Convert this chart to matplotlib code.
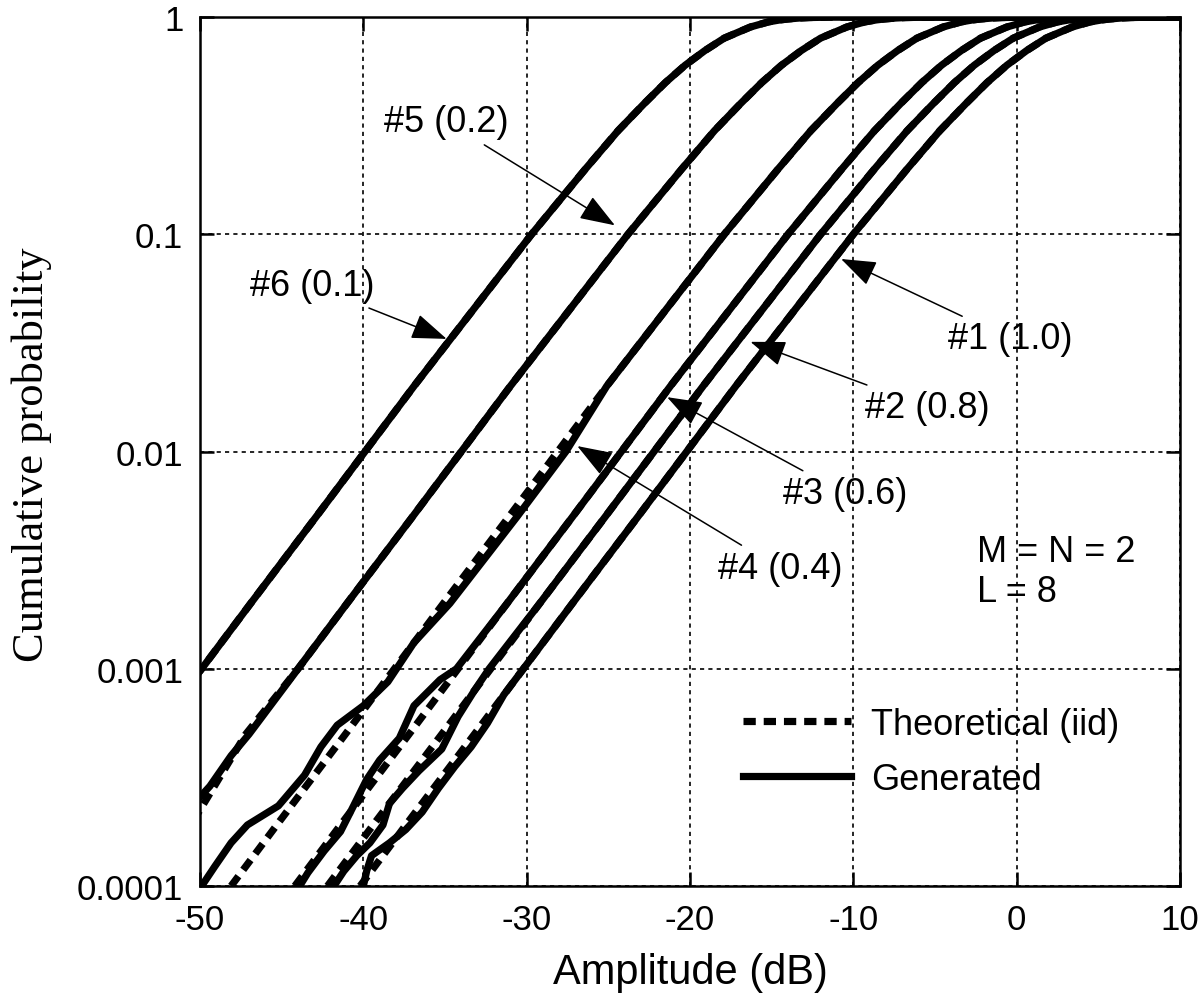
import matplotlib
matplotlib.use("Agg")
import matplotlib.pyplot as plt
from matplotlib.ticker import FixedLocator, NullLocator

plt.rcParams['font.family'] = ['Liberation Sans', 'DejaVu Sans']
plt.rcParams['axes.unicode_minus'] = False

levels = [1e-4, 2e-4, 5e-4, 1e-3, 2e-3, 5e-3, 0.01, 0.02, 0.05, 0.1, 0.2, 0.3,
          0.4, 0.5, 0.6, 0.7, 0.8, 0.9, 0.95, 0.97, 0.98, 0.99, 0.995, 0.999, 1.0]

# theoretical (iid) curves: amplitude in dB at each level
theo6 = [-59.9, -56.9, -52.9, -49.9, -46.9, -42.9, -39.9, -36.9, -32.8, -29.7, -26.4, -24.4,
         -22.8, -21.5, -20.3, -19.1, -17.9, -16.3, -15.2, -14.5, -14.0, -13.3, -12.7, -11.5, 10]
theo5 = [-53.4, -50.4, -47.2, -44.0, -41.0, -37.0, -34.0, -31.0, -26.9, -23.8, -20.5, -18.5,
         -16.9, -15.6, -14.4, -13.2, -12.0, -10.4, -9.3, -8.6, -8.1, -7.4, -6.8, -5.6, 10]
theo4 = [-48.1, -45.1, -41.1, -38.1, -35.1, -31.1, -28.1, -25.1, -21.0, -17.9, -14.6, -12.6,
         -11.0, -9.7, -8.5, -7.3, -6.1, -4.5, -3.4, -2.7, -2.2, -1.5, -0.9, 0.3, 10]
theo3 = [-44.2, -41.2, -37.2, -34.2, -31.2, -27.2, -24.2, -21.2, -17.1, -14.0, -10.7, -8.7,
         -7.1, -5.8, -4.6, -3.4, -2.2, -0.6, 0.5, 1.2, 1.7, 2.4, 3.0, 4.2, 10]
theo2 = [-42.2, -39.2, -35.2, -32.2, -29.2, -25.2, -22.2, -19.2, -15.1, -12.0, -8.7, -6.7,
         -5.1, -3.8, -2.6, -1.4, -0.2, 1.4, 2.5, 3.2, 3.7, 4.4, 5.0, 6.2, 10]
theo1 = [-40.2, -37.2, -33.2, -30.2, -27.2, -23.2, -20.2, -17.2, -13.1, -10.0, -6.7, -4.7,
         -3.1, -1.8, -0.6, 0.6, 1.8, 3.4, 4.5, 5.2, 5.7, 6.4, 7.0, 8.2, 10]

# generated curves, low tail where they leave the theoretical ones
gen1_x = [-40.0, -39.8, -39.5, -38.4, -37.4, -36.4, -35.4, -34.4, -33.4, -32.4, -31.4, -30.2]
gen1_p = [1.0e-4, 1.17e-4, 1.38e-4, 1.58e-4, 1.82e-4, 2.19e-4, 2.82e-4, 3.55e-4, 4.37e-4,
          5.62e-4, 7.59e-4, 1.0e-3]
gen2_x = [-41.8, -41.2, -40.4, -39.6, -38.8, -38.4, -37.6, -36.6, -35.2, -34.2, -33.2, -32.3]
gen2_p = [1.0e-4, 1.17e-4, 1.38e-4, 1.58e-4, 1.91e-4, 2.40e-4, 2.82e-4, 3.39e-4, 4.27e-4,
          6.03e-4, 7.94e-4, 1.0e-3]
gen3_x = [-43.9, -43.4, -42.4, -41.4, -40.6, -39.8, -39.0, -37.8, -36.9, -35.3, -34.3]
gen3_p = [1.0e-4, 1.15e-4, 1.45e-4, 1.78e-4, 2.34e-4, 3.09e-4, 3.80e-4, 4.79e-4, 6.76e-4,
          8.91e-4, 1.0e-3]
gen4_x = [-49.9, -49.1, -48.1, -47.1, -45.2, -43.6, -42.6, -41.6, -40.0, -38.5, -36.9, -34.7,
          -30.6, -27.6]
gen4_p = [1.0e-4, 1.23e-4, 1.58e-4, 1.91e-4, 2.34e-4, 3.24e-4, 4.37e-4, 5.50e-4, 6.76e-4,
          8.71e-4, 1.32e-3, 2.0e-3, 5.0e-3, 0.01]
gen5_x = [-50.0, -49.4, -48.1, -47.0, -44.0]
gen5_p = [2.57e-4, 2.88e-4, 3.98e-4, 5.0e-4, 1.0e-3]

curve_labels = ['#1 (1.0)', '#2 (0.8)', '#3 (0.6)', '#4 (0.4)', '#5 (0.2)', '#6 (0.1)']
# label position and arrow tip (dB, probability)
label_pos = [(-0.4, 0.033), (-5.5, 0.016), (-10.5, 0.0064), (-14.5, 0.0029), (-34.9, 0.33), (-43.1, 0.058)]
arrow_tip = [(-10.75, 0.077), (-16.3, 0.032), (-21.4, 0.0178), (-26.9, 0.0106), (-24.6, 0.11), (-34.9, 0.033)]

xticks = [-50, -40, -30, -20, -10, 0, 10]
yticks = [1e-4, 1e-3, 1e-2, 0.1, 1]
ytick_labels = ['0.0001', '0.001', '0.01', '0.1', '1']


def joined(low_x, low_p, theo):
    xs = list(low_x)
    ps = list(low_p)
    for x, p in zip(theo, levels):
        if p > low_p[-1]:
            xs.append(x)
            ps.append(p)
    return xs, ps


fig = plt.figure(figsize=(12, 10.04), dpi=100)
ax = fig.add_axes([0.1667, 0.1165, 0.8166, 0.8655])

lw = 5.2
dash = (0, (1.7, 1.1))

generated = [joined(gen1_x, gen1_p, theo1), joined(gen2_x, gen2_p, theo2),
             joined(gen3_x, gen3_p, theo3), joined(gen4_x, gen4_p, theo4),
             joined(gen5_x, gen5_p, theo5), (theo6[3:], levels[3:])]
theoretical = [theo1, theo2, theo3, theo4, theo5, theo6]

for gx, gp in generated:
    ax.plot(gx, gp, color='k', lw=lw)
for tx in theoretical:
    ax.plot(tx, levels, color='k', lw=lw, ls=dash)

# legend proxies
ax.plot([], [], color='k', lw=lw, ls=dash, label='Theoretical (iid)')
ax.plot([], [], color='k', lw=lw, label='Generated')
ax.legend(loc='upper left', bbox_to_anchor=(0.554, 0.206), borderaxespad=0, borderpad=0,
          frameon=False, fontsize=26, handlelength=3.0, handletextpad=0.55, labelspacing=0.55)

for lab, pos, tip in zip(curve_labels, label_pos, arrow_tip):
    ax.annotate(lab, xy=tip, xytext=pos, fontsize=26, ha='center', va='center',
                arrowprops=dict(arrowstyle='-|>,head_length=1.1,head_width=0.4',
                                color='k', lw=1.1, mutation_scale=20, shrinkA=4, shrinkB=0))

ax.text(-2.4, 0.00345, 'M = N = 2', fontsize=26, ha='left', va='center')
ax.text(-2.4, 0.00228, 'L = 8', fontsize=26, ha='left', va='center')

ax.set_yscale('log')
ax.set_xlim(-50, 10)
ax.set_ylim(1e-4, 1)
ax.xaxis.set_major_locator(FixedLocator(xticks))
ax.yaxis.set_major_locator(FixedLocator(yticks))
ax.yaxis.set_minor_locator(NullLocator())
ax.set_yticklabels(ytick_labels)
ax.grid(True, which='major', color='k', lw=1.2, ls=(0, (2.5, 2.5)))
ax.tick_params(direction='in', length=10, width=1.8, top=True, right=True, labelsize=25, pad=12)
for s in ax.spines.values():
    s.set_linewidth(1.8)

fig.text(690 / 1200, 1 - 973 / 1004, 'Amplitude (dB)', fontsize=30, ha='center', va='center')
fig.text(32 / 1200, 1 - 455 / 1004, 'Cumulative probability', fontsize=32, rotation=90,
         ha='center', va='center', family=['Liberation Serif', 'DejaVu Serif'])

fig.savefig('out.png', dpi=100)
